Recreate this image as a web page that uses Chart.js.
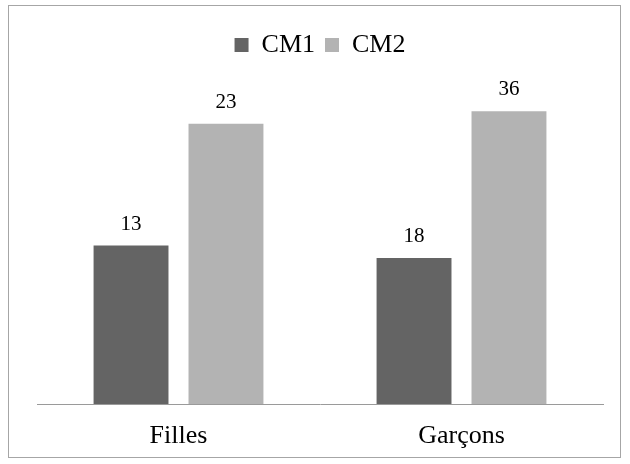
<!DOCTYPE html>
<html><head><meta charset="utf-8">
<script src="https://cdn.jsdelivr.net/npm/chart.js@4"></script>
<style>html,body{margin:0;padding:0;background:#fff}#wrap{position:relative;width:630px;height:464px}</style>
</head><body><div id="wrap"><canvas id="c" width="630" height="464"></canvas></div>
<script>
const categories = ['Filles', 'Garçons'];
const seriesNames = ['CM1', 'CM2'];
// counts shown as labels above the bars
const countsCM1 = [13, 18];
const countsCM2 = [23, 36];
// bar heights (share of the group, %)
const shareCM1 = [36.1, 33.3];
const shareCM2 = [63.9, 66.7];
const colors = ['#646464', '#b3b3b3'];

const SERIF = '"Liberation Serif", "Times New Roman", serif';

const frame = {
  id: 'frame',
  beforeInit(chart) {
    const fit = chart.legend.fit;
    chart.legend.fit = function () {
      fit.call(this);
      this.height = 31;
    };
  },
  beforeDraw(chart) {
    const ctx = chart.ctx;
    ctx.save();
    ctx.fillStyle = '#fff';
    ctx.fillRect(0, 0, chart.width, chart.height);
    ctx.strokeStyle = '#a6a6a6';
    ctx.lineWidth = 1;
    ctx.strokeRect(8.5, 5.5, 612, 452);
    ctx.restore();
  }
};
const valueLabels = {
  id: 'valueLabels',
  afterDatasetsDraw(chart) {
    const ctx = chart.ctx;
    ctx.save();
    ctx.font = '21px ' + SERIF;
    ctx.fillStyle = '#000';
    ctx.textAlign = 'center';
    ctx.textBaseline = 'alphabetic';
    chart.data.datasets.forEach((ds, i) => {
      chart.getDatasetMeta(i).data.forEach((bar, j) => {
        ctx.fillText(String(ds.counts[j]), bar.x, bar.y - 16);
      });
    });
    ctx.restore();
  }
};

new Chart(document.getElementById('c'), {
  type: 'bar',
  data: {
    labels: categories,
    datasets: [
      { label: seriesNames[0], data: shareCM1, counts: countsCM1, backgroundColor: colors[0] },
      { label: seriesNames[1], data: shareCM2, counts: countsCM2, backgroundColor: colors[1] }
    ]
  },
  options: {
    responsive: false,
    animation: false,
    devicePixelRatio: 1,
    categoryPercentage: 0.671,
    barPercentage: 0.789,
    layout: { padding: { left: 37, right: 27, top: 22, bottom: 0 } },
    plugins: {
      legend: {
        position: 'top',
        labels: {
          font: { family: SERIF, size: 26 },
          color: '#000',
          boxWidth: 14,
          boxHeight: 14,
          padding: 10
        }
      },
      tooltip: { enabled: false }
    },
    scales: {
      x: {
        afterFit(scale) { scale.height = 60; },
        grid: { display: false, drawTicks: false },
        border: { display: true, color: '#9a9a9a', width: 1 },
        ticks: { font: { family: SERIF, size: 26 }, color: '#000', padding: 17 }
      },
      y: {
        display: false,
        min: 0,
        max: 80
      }
    }
  },
  plugins: [frame, valueLabels]
});
</script></body></html>
